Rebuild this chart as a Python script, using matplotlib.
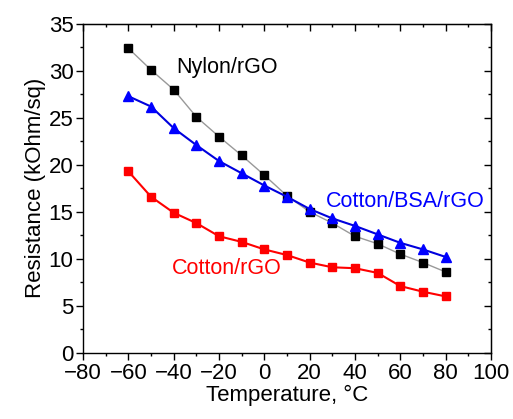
import matplotlib
matplotlib.use('Agg')
import matplotlib.pyplot as plt
from matplotlib.ticker import MultipleLocator

plt.rcParams['font.family'] = ['Liberation Sans', 'DejaVu Sans']

temperature = [-60, -50, -40, -30, -20, -10, 0, 10, 20, 30, 40, 50, 60, 70, 80]
nylon_rgo = [32.4, 30.1, 28.0, 25.1, 23.0, 21.0, 18.9, 16.7, 15.0, 13.8, 12.4, 11.6, 10.5, 9.6, 8.6]
cotton_bsa_rgo = [27.3, 26.2, 23.9, 22.1, 20.4, 19.1, 17.8, 16.6, 15.3, 14.3, 13.5, 12.6, 11.7, 11.0, 10.2]
cotton_rgo = [19.3, 16.6, 14.9, 13.8, 12.4, 11.8, 11.0, 10.4, 9.6, 9.1, 9.0, 8.5, 7.1, 6.5, 6.0]

fig = plt.figure(figsize=(5.13, 4.19), dpi=100)
ax = fig.add_axes([0.162, 0.158, 0.795, 0.785])

ax.plot(temperature, nylon_rgo, color='#999999', lw=1.0, marker='s', ms=6,
        mfc='black', mec='black')
ax.plot(temperature, cotton_bsa_rgo, color='#0000dd', lw=1.5, marker='^', ms=7.5,
        mfc='#0000ff', mec='#0000ff')
ax.plot(temperature, cotton_rgo, color='#ff0000', lw=1.5, marker='s', ms=6,
        mfc='#ff0000', mec='#ff0000')

ax.text(-39, 30.4, 'Nylon/rGO', fontsize=15.5, color='black', ha='left', va='center')
ax.text(27, 16.1, 'Cotton/BSA/rGO', fontsize=15.5, color='#0000ff', ha='left', va='center')
ax.text(-40.7, 9.0, 'Cotton/rGO', fontsize=15.5, color='#ff0000', ha='left', va='center')

ax.set_xlim(-80, 100)
ax.set_ylim(0, 35)
ax.xaxis.set_major_locator(MultipleLocator(20))
ax.xaxis.set_minor_locator(MultipleLocator(10))
ax.yaxis.set_major_locator(MultipleLocator(5))
ax.yaxis.set_minor_locator(MultipleLocator(2.5))
ax.tick_params(which='major', direction='out', length=5, width=1, labelsize=16, pad=2)
ax.tick_params(which='minor', direction='out', length=2.5, width=1)

for sp in ax.spines.values():
    sp.set_linewidth(1.0)

top = ax.secondary_xaxis('top')
top.xaxis.set_major_locator(MultipleLocator(20))
top.xaxis.set_minor_locator(MultipleLocator(10))
top.tick_params(which='major', direction='in', length=5, width=1, labeltop=False)
top.tick_params(which='minor', direction='in', length=2.5, width=1)

right = ax.secondary_yaxis('right')
right.yaxis.set_major_locator(MultipleLocator(5))
right.yaxis.set_minor_locator(MultipleLocator(2.5))
right.tick_params(which='major', direction='in', length=5, width=1, labelright=False)
right.tick_params(which='minor', direction='in', length=2.5, width=1)

ax.set_xlabel('Temperature, \u00b0C', fontsize=16, labelpad=1)
ax.set_ylabel('Resistance (kOhm/sq)', fontsize=16, labelpad=2)

fig.savefig('out.png', dpi=100)
